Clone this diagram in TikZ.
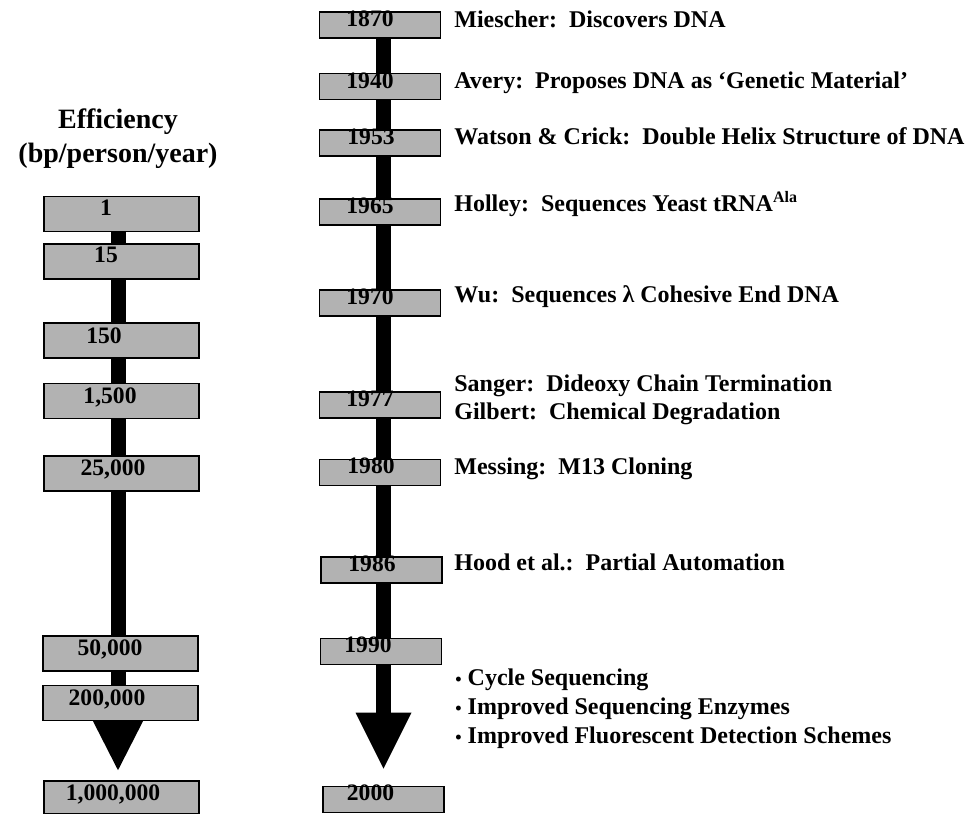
\documentclass[tikz,border=0pt]{standalone}
\usepackage{fontspec}
\setmainfont{Liberation Serif}
\usetikzlibrary{arrows.meta, positioning, backgrounds}

\newcommand{\smallbullet}{{\fontsize{9}{9}\selectfont•}}

\tikzset{
  effbox/.style={draw, fill=black!30, line width=0.8pt, minimum width=77.5pt, minimum height=17.5pt, inner sep=0pt},
  yearbox/.style={draw, fill=black!30, line width=0.8pt, minimum width=60.5pt, minimum height=13pt, inner sep=0pt},
  boxtext/.style={anchor=north, inner sep=0pt, font=\bfseries\fontsize{11.8}{14}\selectfont},
  event/.style={anchor=base west, inner sep=0pt, font=\bfseries\fontsize{12}{14.5}\selectfont},
  heading/.style={anchor=base, inner sep=0pt, font=\bfseries\fontsize{14}{17}\selectfont},
  shaft/.style={line width=7.5pt, black},
}

\begin{document}
\begin{tikzpicture}[x=0.5pt, y=-0.5pt]
			\useasboundingbox (0,0) rectangle (970,814);

			% Heading of the left column
			\node[heading] (eff) at (118,128) {Efficiency};
			\node[heading] (unit) at (118,162) {(bp/person/year)};

			% Draw the efficiency boxes
			\node[effbox] (e1) at (121.5,214) {};
			\node[effbox] (e15) at (121.5,261.5) {};
			\node[effbox] (e150) at (121.5,340.5) {};
			\node[effbox] (e1500) at (121.5,401) {};
			\node[effbox] (e25000) at (121.5,473.5) {};
			\node[effbox] (e50000) at (120.5,653.5) {};
			\node[effbox] (e200000) at (120.5,703) {};
			\node[effbox, minimum height=16.5pt] (e1000000) at (121.5,797.5) {};

			\node[boxtext] (t1) at (106,200) {1};
			\node[boxtext] (t15) at (106,247) {15};
			\node[boxtext] (t150) at (104,327) {150};
			\node[boxtext] (t1500) at (110,387) {1,500};
			\node[boxtext] (t25000) at (113,459) {25,000};
			\node[boxtext] (t50000) at (110,639) {50,000};
			\node[boxtext] (t200000) at (107,689) {200,000};
			\node[boxtext] (t1000000) at (113,784) {1,000,000};

			% Draw the year boxes
			\node[yearbox] (y1870) at (380,25) {};
			\node[yearbox] (y1940) at (380,86.5) {};
			\node[yearbox] (y1953) at (380,143) {};
			\node[yearbox] (y1965) at (380,212) {};
			\node[yearbox] (y1970) at (380,303) {};
			\node[yearbox] (y1977) at (380,405) {};
			\node[yearbox] (y1980) at (380,472.5) {};
			\node[yearbox] (y1986) at (381.5,570) {};
			\node[yearbox] (y1990) at (381,651.5) {};
			\node[yearbox] (y2000) at (383.5,799.5) {};

			\node[boxtext] (l1870) at (370,10) {1870};
			\node[boxtext] (l1940) at (370,72) {1940};
			\node[boxtext] (l1953) at (371,128) {1953};
			\node[boxtext] (l1965) at (370,197) {1965};
			\node[boxtext] (l1970) at (370,288) {1970};
			\node[boxtext] (l1977) at (370,390) {1977};
			\node[boxtext] (l1980) at (371,457) {1980};
			\node[boxtext] (l1986) at (372,555) {1986};
			\node[boxtext] (l1990) at (368,636) {1990};
			\node[boxtext] (l2000) at (370.5,784) {2000};

			% Events next to the years
			\node[event] (miescher) at (454,27) {Miescher:\ \ Discovers DNA};
			\node[event] (avery) at (454,88) {Avery:\ \ Proposes DNA as `Genetic Material'};
			\node[event] (watson) at (454,144) {Watson \& Crick:\ \ Double Helix Structure of DNA};
			\node[event] (holley) at (454,211) {Holley:\ \ Sequences Yeast tRNA\textsuperscript{Ala}};
			\node[event] (wu) at (454,302) {Wu:\ \ Sequences λ Cohesive End DNA};
			\node[event] (sanger) at (454,391) {Sanger:\ \ Dideoxy Chain Termination};
			\node[event] (gilbert) at (454,419) {Gilbert:\ \ Chemical Degradation};
			\node[event] (messing) at (454,474) {Messing:\ \ M13 Cloning};
			\node[event] (hood) at (454,570) {Hood et al.:\ \ Partial Automation};
			\node[event] (cycle) at (455,685) {\smallbullet\ Cycle Sequencing};
			\node[event] (enzymes) at (455,714) {\smallbullet\ Improved Sequencing Enzymes};
			\node[event] (fluor) at (455,743) {\smallbullet\ Improved Fluorescent Detection Schemes};

			% Draw the shafts behind the boxes
			\begin{scope}[on background layer]
				\draw[shaft, -{Triangle[length=25pt, width=25.5pt, line width=0pt]}, shorten >=5pt]
					([xshift=-1.75pt]e1.south) -- ([xshift=-1.75pt]e1000000.north);
				\draw[shaft, -{Triangle[length=28pt, width=28pt, line width=0pt]}, shorten >=8.5pt]
					([xshift=1.75pt]y1870.south) -- (y2000.north);
			\end{scope}

		\end{tikzpicture}
\end{document}
